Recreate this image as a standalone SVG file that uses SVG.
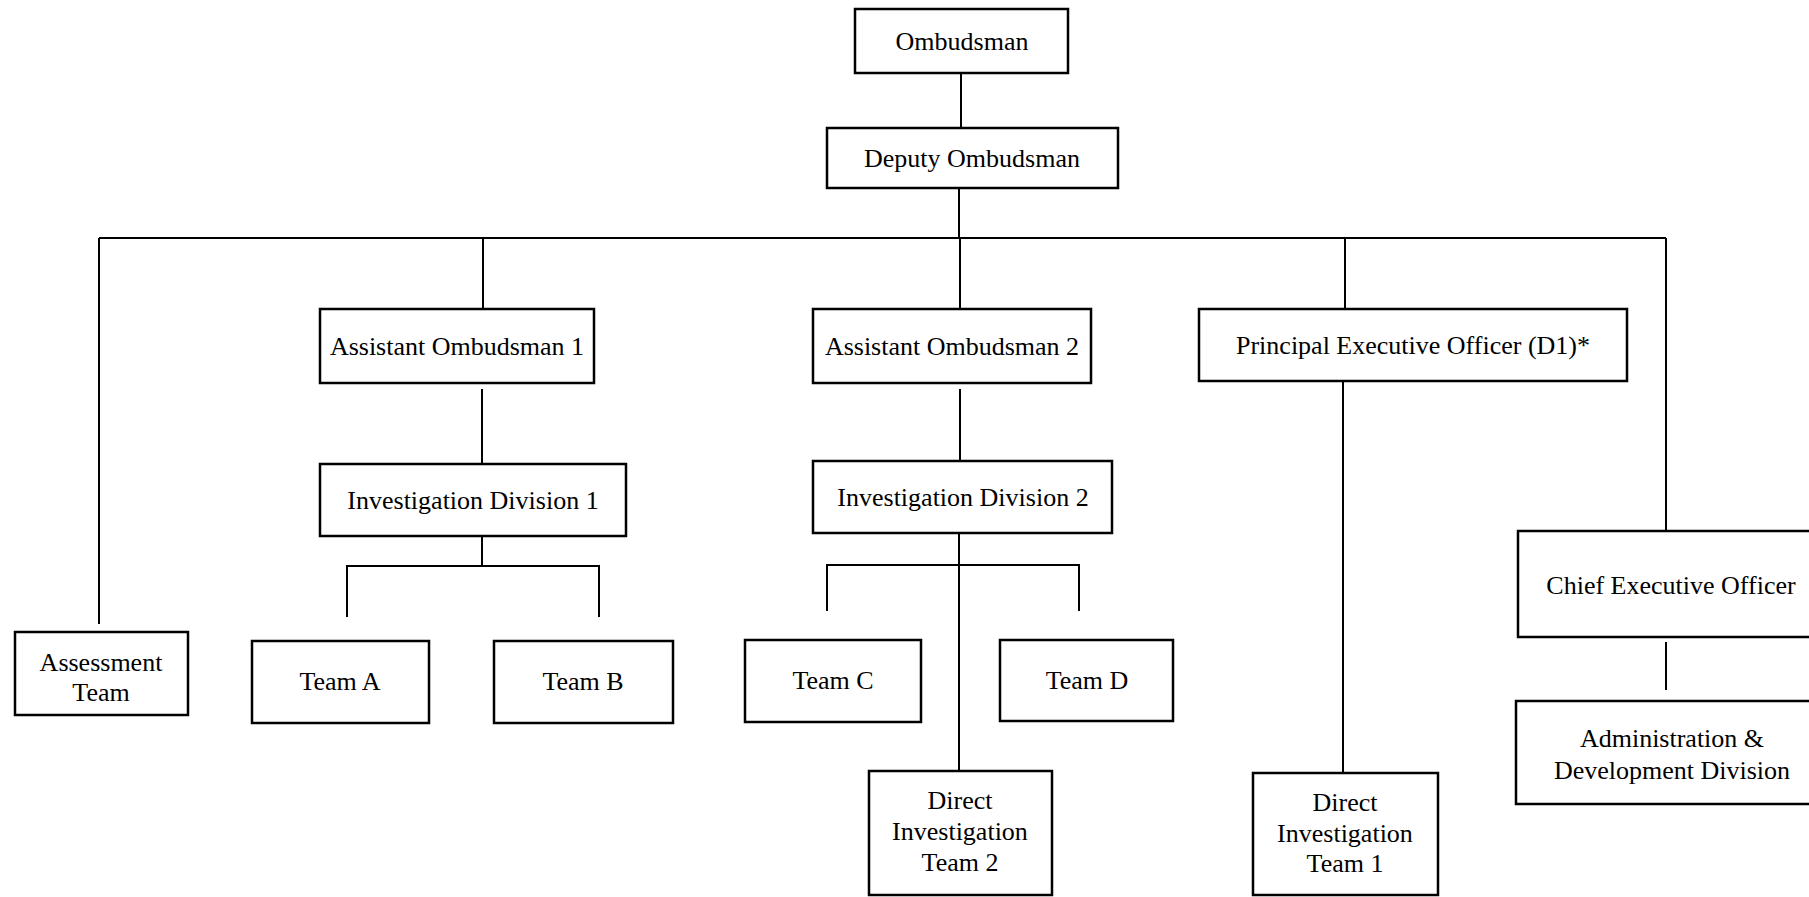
<svg xmlns="http://www.w3.org/2000/svg" width="1809" height="897" viewBox="0 0 1809 897">
<style>
.box{fill:#fff;stroke:#000;stroke-width:2.5}
.ln{stroke:#000;stroke-width:2;fill:none}
text{font-family:"Liberation Serif","Times New Roman",serif;font-size:26px;fill:#000;text-anchor:middle;dominant-baseline:central}
</style>
<rect width="1809" height="897" fill="#fff"/>
<g id="connectors">
<line class="ln" x1="961" y1="73" x2="961" y2="128"/>
<line class="ln" x1="959" y1="188" x2="959" y2="238"/>
<line class="ln" x1="99" y1="238" x2="1666" y2="238"/>
<line class="ln" x1="99" y1="238" x2="99" y2="624"/>
<line class="ln" x1="483" y1="238" x2="483" y2="309"/>
<line class="ln" x1="960" y1="238" x2="960" y2="309"/>
<line class="ln" x1="1345" y1="238" x2="1345" y2="309"/>
<line class="ln" x1="1666" y1="238" x2="1666" y2="531"/>
<line class="ln" x1="482" y1="389" x2="482" y2="463"/>
<line class="ln" x1="482" y1="536" x2="482" y2="566"/>
<polyline class="ln" points="347,617 347,566 599,566 599,617"/>
<line class="ln" x1="960" y1="389" x2="960" y2="461"/>
<line class="ln" x1="959" y1="533" x2="959" y2="771"/>
<polyline class="ln" points="827,611 827,565 1079,565 1079,611"/>
<line class="ln" x1="1343" y1="381" x2="1343" y2="773"/>
<line class="ln" x1="1666" y1="642" x2="1666" y2="690"/>
</g>
<g id="ombudsman"><rect class="box" x="855" y="9" width="213" height="64"/><text x="962" y="41">Ombudsman</text></g>
<g id="deputy"><rect class="box" x="827" y="128" width="291" height="60"/><text x="972" y="158">Deputy Ombudsman</text></g>
<g id="ao1"><rect class="box" x="320" y="309" width="274" height="74"/><text x="457" y="346">Assistant Ombudsman 1</text></g>
<g id="ao2"><rect class="box" x="813" y="309" width="278" height="74"/><text x="952" y="346">Assistant Ombudsman 2</text></g>
<g id="peo"><rect class="box" x="1199" y="309" width="428" height="72"/><text x="1413" y="345">Principal Executive Officer (D1)*</text></g>
<g id="id1"><rect class="box" x="320" y="464" width="306" height="72"/><text x="473" y="500">Investigation Division 1</text></g>
<g id="id2"><rect class="box" x="813" y="461" width="299" height="72"/><text x="963" y="497">Investigation Division 2</text></g>
<g id="assessment"><rect class="box" x="15" y="632" width="173" height="83"/><text x="101" y="662">Assessment</text><text x="101" y="692">Team</text></g>
<g id="teamA"><rect class="box" x="252" y="641" width="177" height="82"/><text x="340" y="681">Team A</text></g>
<g id="teamB"><rect class="box" x="494" y="641" width="179" height="82"/><text x="583" y="681">Team B</text></g>
<g id="teamC"><rect class="box" x="745" y="640" width="176" height="82"/><text x="833" y="680">Team C</text></g>
<g id="teamD"><rect class="box" x="1000" y="640" width="173" height="81"/><text x="1087" y="680">Team D</text></g>
<g id="dit2"><rect class="box" x="869" y="771" width="183" height="124"/><text x="960" y="800">Direct</text><text x="960" y="831">Investigation</text><text x="960" y="862">Team 2</text></g>
<g id="dit1"><rect class="box" x="1253" y="773" width="185" height="122"/><text x="1345" y="802">Direct</text><text x="1345" y="833">Investigation</text><text x="1345" y="863">Team 1</text></g>
<g id="ceo"><rect class="box" x="1518" y="531" width="300" height="106"/><text x="1671" y="585">Chief Executive Officer</text></g>
<g id="admin"><rect class="box" x="1516" y="701" width="302" height="103"/><text x="1672" y="738">Administration &amp;</text><text x="1672" y="770">Development Division</text></g>
</svg>
